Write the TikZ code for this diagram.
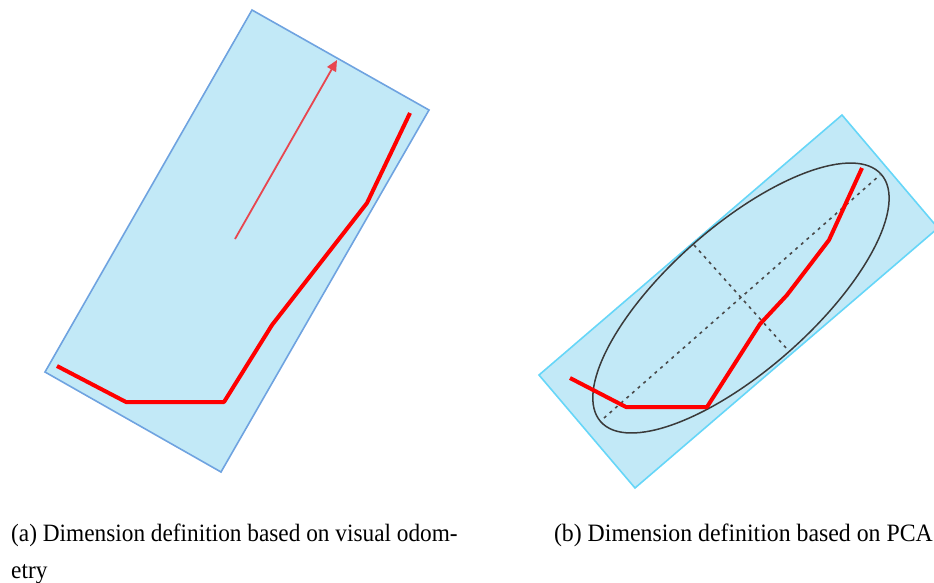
\documentclass[tikz,border=0pt]{standalone}
\usepackage{fontspec}
\setmainfont{Liberation Serif}
\usetikzlibrary{arrows.meta}
\definecolor{boxfill}{HTML}{C2E9F7}
\definecolor{leftedge}{HTML}{6FA3E0}
\definecolor{rightedge}{HTML}{66D6F8}
\definecolor{trackred}{HTML}{FF0000}
\definecolor{arrowred}{HTML}{E8464F}
\definecolor{ellgray}{HTML}{3A3A3A}
\definecolor{axisgray}{HTML}{4A4A4A}
\tikzset{
  areabox/.style={fill=boxfill, line width=1.6pt, line join=miter},
  track/.style={draw=trackred, line width=4pt, line join=round},
  headarrow/.style={draw=arrowred, line width=1.8pt, -{Triangle[length=11pt,width=10pt]}},
  pcaell/.style={draw=ellgray, line width=1.5pt},
  pcaaxis/.style={draw=axisgray, line width=1.6pt, dash pattern=on 3pt off 4.5pt},
  captext/.style={font=\fontsize{23.8}{28}\selectfont, inner sep=0pt, yscale=1.05},
  captexta/.style={font=\fontsize{23.3}{28}\selectfont, inner sep=0pt, yscale=1.07}
}
\begin{document}
\begin{tikzpicture}[x=1pt,y=-1pt]
\useasboundingbox (0,0) rectangle (934,582);
% ---------- panel (a)
\draw[areabox, draw=leftedge] (252,10) -- (429,110) -- (221,472) -- (45,372) -- cycle;
\draw[track] (57,366) -- (126,402) -- (224,402) -- (272,325) -- (367,203) -- (410,113);
\coordinate (atail) at (235,239);
\coordinate (ahead) at (337,60);
\draw[headarrow] (atail) -- (ahead);
% ---------- panel (b)
\begin{scope}
\clip (0,0) rectangle (934,582);
\draw[areabox, draw=rightedge] (842,115) -- (938,228) -- (635,488) -- (539,375) -- cycle;
\end{scope}
\coordinate (ec) at (741,298);
\draw[pcaell, rotate around={41.4:(ec)}] (ec) ellipse [x radius=187pt, y radius=72pt];
\coordinate (maj1) at (604,418);
\coordinate (maj2) at (880,175);
\coordinate (min1) at (694,245);
\coordinate (min2) at (787,349);
\draw[pcaaxis] (maj1) -- (maj2);
\draw[pcaaxis] (min1) -- (min2);
\draw[track] (570,378) -- (626,407) -- (707,407) -- (760,324) -- (787,295) -- (829,240) -- (862,168);
% ---------- captions
\node[captexta, anchor=base west] (capa) at (11,541) {(a) Dimension definition based on visual odom-};
\node[captexta, anchor=base west] (capa2) at (11,578) {etry};
\node[captext, anchor=base east] (capb) at (933,541) {(b) Dimension definition based on PCA};
\end{tikzpicture}
\end{document}
